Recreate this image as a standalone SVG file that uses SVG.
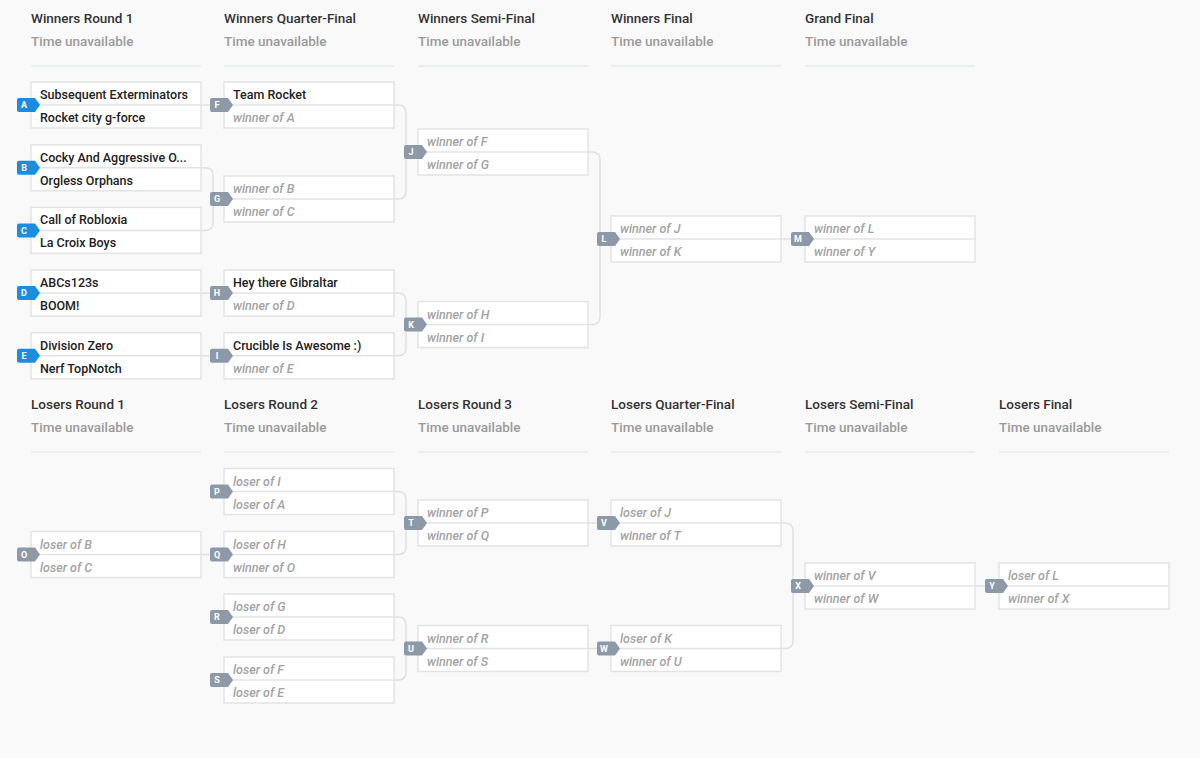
<svg xmlns="http://www.w3.org/2000/svg" width="1200" height="758" viewBox="0 0 1200 758">
<style>
.bg{fill:#f9f9f9}
.h1{font-family:Roboto,"Liberation Sans",sans-serif;font-size:13.5px;font-weight:500;fill:#333}
.h2{font-family:Roboto,"Liberation Sans",sans-serif;font-size:13.5px;font-weight:500;fill:#9a9a9a}
.sep{stroke:#dde3e8;stroke-width:1.2}
.box{fill:#fff;stroke:#e3e3e3;stroke-width:1.5}
.div{stroke:#e3e3e3;stroke-width:1.5}
.t{font-family:Roboto,"Liberation Sans",sans-serif;font-size:12.5px;font-weight:500;fill:#222}
.p{font-family:Roboto,"Liberation Sans",sans-serif;font-size:12.5px;font-style:italic;font-weight:500;fill:#a3a3a3}
.bb{fill:#1a8de1}
.bg2{fill:#8d99a7}
.bt{font-family:Roboto,"Liberation Sans",sans-serif;font-size:9px;font-weight:700;fill:#fff;text-anchor:middle}
.c{fill:none;stroke:#e0e0e0;stroke-width:1.5}
</style>
<rect class="bg" x="0" y="0" width="1200" height="758"/>
<g id="headers">
<text class="h1" x="31" y="23">Winners Round 1</text><text class="h2" x="31" y="46">Time unavailable</text><line class="sep" x1="31" y1="66" x2="201" y2="66"/>
<text class="h1" x="224" y="23">Winners Quarter-Final</text><text class="h2" x="224" y="46">Time unavailable</text><line class="sep" x1="224" y1="66" x2="394" y2="66"/>
<text class="h1" x="418" y="23">Winners Semi-Final</text><text class="h2" x="418" y="46">Time unavailable</text><line class="sep" x1="418" y1="66" x2="588" y2="66"/>
<text class="h1" x="611" y="23">Winners Final</text><text class="h2" x="611" y="46">Time unavailable</text><line class="sep" x1="611" y1="66" x2="781" y2="66"/>
<text class="h1" x="805" y="23">Grand Final</text><text class="h2" x="805" y="46">Time unavailable</text><line class="sep" x1="805" y1="66" x2="975" y2="66"/>
<text class="h1" x="31" y="409">Losers Round 1</text><text class="h2" x="31" y="432">Time unavailable</text><line class="sep" x1="31" y1="452" x2="201" y2="452"/>
<text class="h1" x="224" y="409">Losers Round 2</text><text class="h2" x="224" y="432">Time unavailable</text><line class="sep" x1="224" y1="452" x2="394" y2="452"/>
<text class="h1" x="418" y="409">Losers Round 3</text><text class="h2" x="418" y="432">Time unavailable</text><line class="sep" x1="418" y1="452" x2="588" y2="452"/>
<text class="h1" x="611" y="409">Losers Quarter-Final</text><text class="h2" x="611" y="432">Time unavailable</text><line class="sep" x1="611" y1="452" x2="781" y2="452"/>
<text class="h1" x="805" y="409">Losers Semi-Final</text><text class="h2" x="805" y="432">Time unavailable</text><line class="sep" x1="805" y1="452" x2="975" y2="452"/>
<text class="h1" x="999" y="409">Losers Final</text><text class="h2" x="999" y="432">Time unavailable</text><line class="sep" x1="999" y1="452" x2="1169" y2="452"/>
</g>
<g id="connectors">
<line class="c" x1="201" y1="105" x2="215" y2="105"/>
<path class="c" d="M201 167.7H205Q213 167.7 213 175.7V222.4Q213 230.4 205 230.4H201"/>
<line class="c" x1="201" y1="293.1" x2="215" y2="293.1"/>
<line class="c" x1="201" y1="355.8" x2="215" y2="355.8"/>
<path class="c" d="M394 105H398Q406 105 406 113V191Q406 199 398 199H394"/>
<path class="c" d="M394 293.1H398Q406 293.1 406 301.1V347.8Q406 355.8 398 355.8H394"/>
<path class="c" d="M588 152H592Q600 152 600 160V316.5Q600 324.5 592 324.5H588"/>
<line class="c" x1="781" y1="239" x2="796" y2="239"/>
<line class="c" x1="201" y1="554.5" x2="215" y2="554.5"/>
<path class="c" d="M394 491.5H398Q406 491.5 406 499.5V546.5Q406 554.5 398 554.5H394"/>
<path class="c" d="M394 617H398Q406 617 406 625V672Q406 680 398 680H394"/>
<line class="c" x1="588" y1="523" x2="602" y2="523"/>
<line class="c" x1="588" y1="648.5" x2="602" y2="648.5"/>
<path class="c" d="M781 523H785Q793 523 793 531V640.5Q793 648.5 785 648.5H781"/>
<line class="c" x1="975" y1="586" x2="990" y2="586"/>
</g>
<defs>
<path id="bdg" d="M-12 -7H4L9 0L4 7H-12Q-14 7 -14 5V-5Q-14 -7 -12 -7Z"/>
</defs>
<g id="A"><rect class="box" x="31" y="82" width="170" height="46"/><line class="div" x1="31" y1="105" x2="201" y2="105"/><text class="t" x="40" y="99">Subsequent Exterminators</text><text class="t" x="40" y="122">Rocket city g-force</text><use href="#bdg" class="bb" x="31" y="105"/><text class="bt" x="24" y="108.3">A</text></g>
<g id="B"><rect class="box" x="31" y="144.7" width="170" height="46"/><line class="div" x1="31" y1="167.7" x2="201" y2="167.7"/><text class="t" x="40" y="161.7">Cocky And Aggressive O...</text><text class="t" x="40" y="184.7">Orgless Orphans</text><use href="#bdg" class="bb" x="31" y="167.7"/><text class="bt" x="24" y="171">B</text></g>
<g id="C"><rect class="box" x="31" y="207.4" width="170" height="46"/><line class="div" x1="31" y1="230.4" x2="201" y2="230.4"/><text class="t" x="40" y="224.4">Call of Robloxia</text><text class="t" x="40" y="247.4">La Croix Boys</text><use href="#bdg" class="bb" x="31" y="230.4"/><text class="bt" x="24" y="233.7">C</text></g>
<g id="D"><rect class="box" x="31" y="270.1" width="170" height="46"/><line class="div" x1="31" y1="293.1" x2="201" y2="293.1"/><text class="t" x="40" y="287.1">ABCs123s</text><text class="t" x="40" y="310.1">BOOM!</text><use href="#bdg" class="bb" x="31" y="293.1"/><text class="bt" x="24" y="296.4">D</text></g>
<g id="E"><rect class="box" x="31" y="332.8" width="170" height="46"/><line class="div" x1="31" y1="355.8" x2="201" y2="355.8"/><text class="t" x="40" y="349.8">Division Zero</text><text class="t" x="40" y="372.8">Nerf TopNotch</text><use href="#bdg" class="bb" x="31" y="355.8"/><text class="bt" x="24" y="359.1">E</text></g>
<g id="F"><rect class="box" x="224" y="82" width="170" height="46"/><line class="div" x1="224" y1="105" x2="394" y2="105"/><text class="t" x="233" y="99">Team Rocket</text><text class="p" x="233" y="122">winner of A</text><use href="#bdg" class="bg2" x="224" y="105"/><text class="bt" x="217" y="108.3">F</text></g>
<g id="G"><rect class="box" x="224" y="176" width="170" height="46"/><line class="div" x1="224" y1="199" x2="394" y2="199"/><text class="p" x="233" y="193">winner of B</text><text class="p" x="233" y="216">winner of C</text><use href="#bdg" class="bg2" x="224" y="199"/><text class="bt" x="217" y="202.3">G</text></g>
<g id="H"><rect class="box" x="224" y="270.1" width="170" height="46"/><line class="div" x1="224" y1="293.1" x2="394" y2="293.1"/><text class="t" x="233" y="287.1">Hey there Gibraltar</text><text class="p" x="233" y="310.1">winner of D</text><use href="#bdg" class="bg2" x="224" y="293.1"/><text class="bt" x="217" y="296.4">H</text></g>
<g id="I"><rect class="box" x="224" y="332.8" width="170" height="46"/><line class="div" x1="224" y1="355.8" x2="394" y2="355.8"/><text class="t" x="233" y="349.8">Crucible Is Awesome :)</text><text class="p" x="233" y="372.8">winner of E</text><use href="#bdg" class="bg2" x="224" y="355.8"/><text class="bt" x="217" y="359.1">I</text></g>
<g id="J"><rect class="box" x="418" y="129" width="170" height="46"/><line class="div" x1="418" y1="152" x2="588" y2="152"/><text class="p" x="427" y="146">winner of F</text><text class="p" x="427" y="169">winner of G</text><use href="#bdg" class="bg2" x="418" y="152"/><text class="bt" x="411" y="155.3">J</text></g>
<g id="K"><rect class="box" x="418" y="301.5" width="170" height="46"/><line class="div" x1="418" y1="324.5" x2="588" y2="324.5"/><text class="p" x="427" y="318.5">winner of H</text><text class="p" x="427" y="341.5">winner of I</text><use href="#bdg" class="bg2" x="418" y="324.5"/><text class="bt" x="411" y="327.8">K</text></g>
<g id="L"><rect class="box" x="611" y="216" width="170" height="46"/><line class="div" x1="611" y1="239" x2="781" y2="239"/><text class="p" x="620" y="233">winner of J</text><text class="p" x="620" y="256">winner of K</text><use href="#bdg" class="bg2" x="611" y="239"/><text class="bt" x="604" y="242.3">L</text></g>
<g id="M"><rect class="box" x="805" y="216" width="170" height="46"/><line class="div" x1="805" y1="239" x2="975" y2="239"/><text class="p" x="814" y="233">winner of L</text><text class="p" x="814" y="256">winner of Y</text><use href="#bdg" class="bg2" x="805" y="239"/><text class="bt" x="798" y="242.3">M</text></g>
<g id="O"><rect class="box" x="31" y="531.5" width="170" height="46"/><line class="div" x1="31" y1="554.5" x2="201" y2="554.5"/><text class="p" x="40" y="548.5">loser of B</text><text class="p" x="40" y="571.5">loser of C</text><use href="#bdg" class="bg2" x="31" y="554.5"/><text class="bt" x="24" y="557.8">O</text></g>
<g id="P"><rect class="box" x="224" y="468.5" width="170" height="46"/><line class="div" x1="224" y1="491.5" x2="394" y2="491.5"/><text class="p" x="233" y="485.5">loser of I</text><text class="p" x="233" y="508.5">loser of A</text><use href="#bdg" class="bg2" x="224" y="491.5"/><text class="bt" x="217" y="494.8">P</text></g>
<g id="Q"><rect class="box" x="224" y="531.5" width="170" height="46"/><line class="div" x1="224" y1="554.5" x2="394" y2="554.5"/><text class="p" x="233" y="548.5">loser of H</text><text class="p" x="233" y="571.5">winner of O</text><use href="#bdg" class="bg2" x="224" y="554.5"/><text class="bt" x="217" y="557.8">Q</text></g>
<g id="R"><rect class="box" x="224" y="594" width="170" height="46"/><line class="div" x1="224" y1="617" x2="394" y2="617"/><text class="p" x="233" y="611">loser of G</text><text class="p" x="233" y="634">loser of D</text><use href="#bdg" class="bg2" x="224" y="617"/><text class="bt" x="217" y="620.3">R</text></g>
<g id="S"><rect class="box" x="224" y="657" width="170" height="46"/><line class="div" x1="224" y1="680" x2="394" y2="680"/><text class="p" x="233" y="674">loser of F</text><text class="p" x="233" y="697">loser of E</text><use href="#bdg" class="bg2" x="224" y="680"/><text class="bt" x="217" y="683.3">S</text></g>
<g id="T"><rect class="box" x="418" y="500" width="170" height="46"/><line class="div" x1="418" y1="523" x2="588" y2="523"/><text class="p" x="427" y="517">winner of P</text><text class="p" x="427" y="540">winner of Q</text><use href="#bdg" class="bg2" x="418" y="523"/><text class="bt" x="411" y="526.3">T</text></g>
<g id="U"><rect class="box" x="418" y="625.5" width="170" height="46"/><line class="div" x1="418" y1="648.5" x2="588" y2="648.5"/><text class="p" x="427" y="642.5">winner of R</text><text class="p" x="427" y="665.5">winner of S</text><use href="#bdg" class="bg2" x="418" y="648.5"/><text class="bt" x="411" y="651.8">U</text></g>
<g id="V"><rect class="box" x="611" y="500" width="170" height="46"/><line class="div" x1="611" y1="523" x2="781" y2="523"/><text class="p" x="620" y="517">loser of J</text><text class="p" x="620" y="540">winner of T</text><use href="#bdg" class="bg2" x="611" y="523"/><text class="bt" x="604" y="526.3">V</text></g>
<g id="W"><rect class="box" x="611" y="625.5" width="170" height="46"/><line class="div" x1="611" y1="648.5" x2="781" y2="648.5"/><text class="p" x="620" y="642.5">loser of K</text><text class="p" x="620" y="665.5">winner of U</text><use href="#bdg" class="bg2" x="611" y="648.5"/><text class="bt" x="604" y="651.8">W</text></g>
<g id="X"><rect class="box" x="805" y="563" width="170" height="46"/><line class="div" x1="805" y1="586" x2="975" y2="586"/><text class="p" x="814" y="580">winner of V</text><text class="p" x="814" y="603">winner of W</text><use href="#bdg" class="bg2" x="805" y="586"/><text class="bt" x="798" y="589.3">X</text></g>
<g id="Y"><rect class="box" x="999" y="563" width="170" height="46"/><line class="div" x1="999" y1="586" x2="1169" y2="586"/><text class="p" x="1008" y="580">loser of L</text><text class="p" x="1008" y="603">winner of X</text><use href="#bdg" class="bg2" x="999" y="586"/><text class="bt" x="992" y="589.3">Y</text></g>
</svg>
